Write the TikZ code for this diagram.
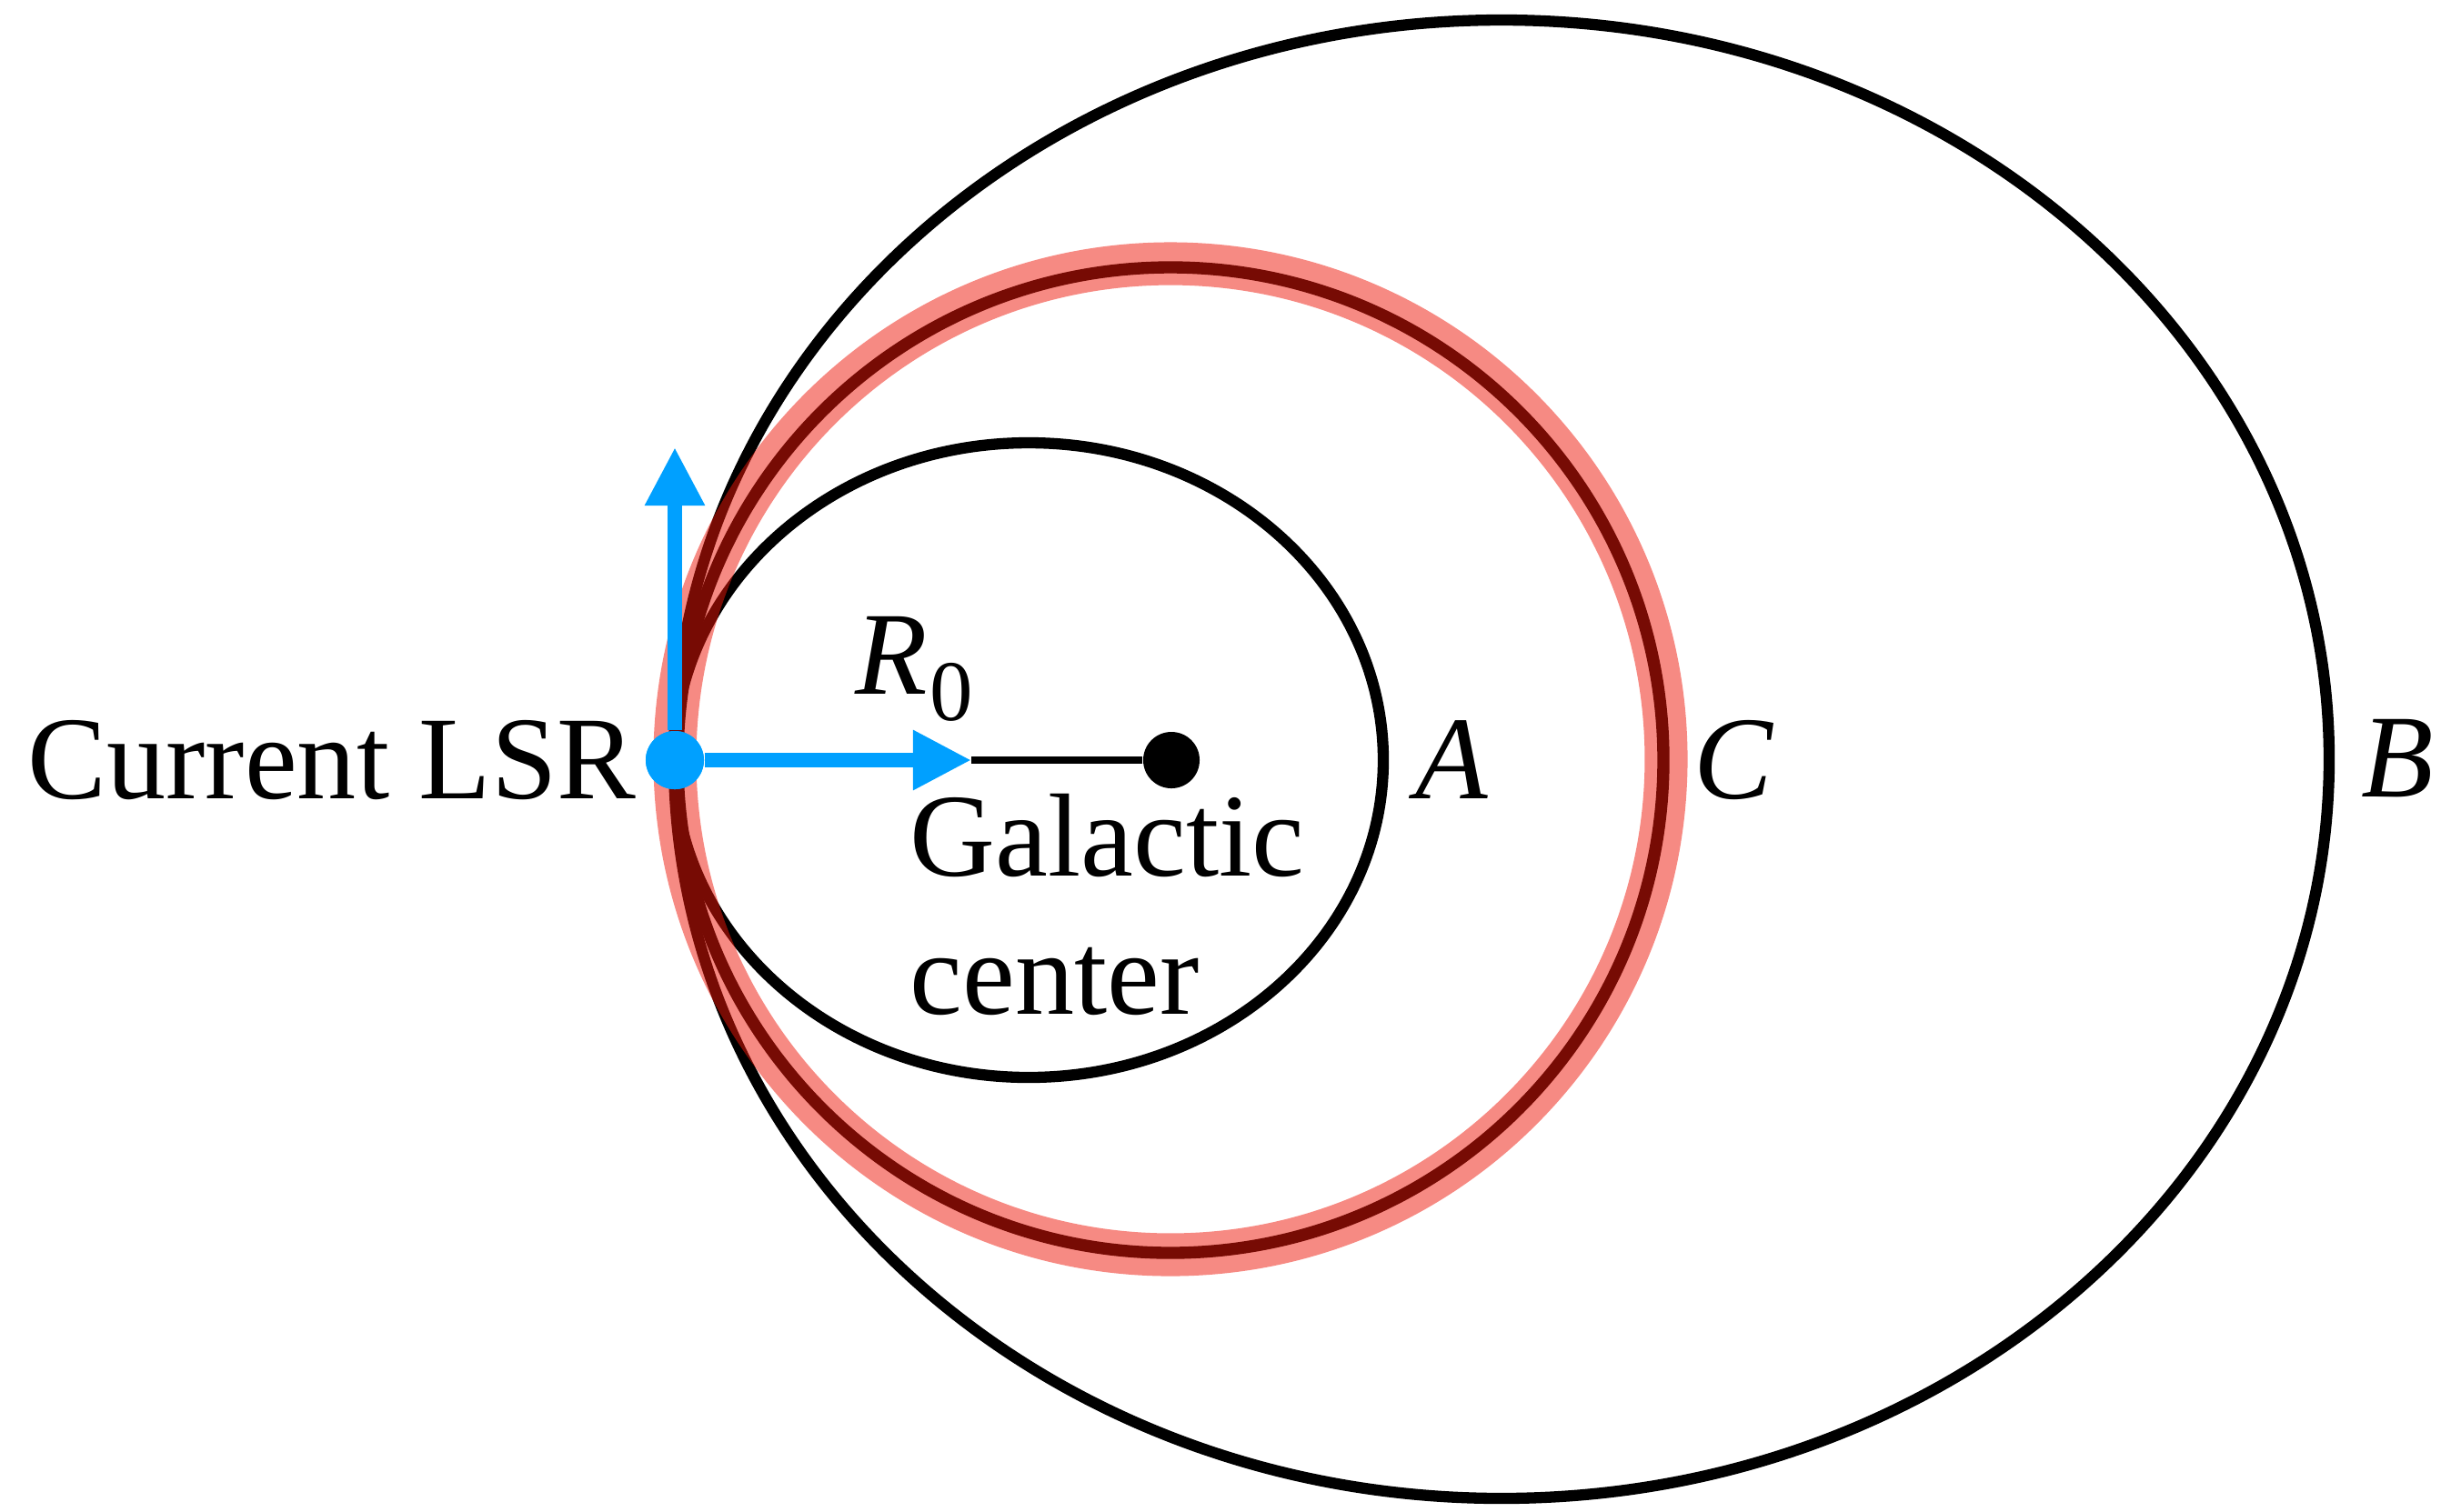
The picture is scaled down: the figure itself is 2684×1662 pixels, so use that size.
\documentclass[tikz,border=0pt]{standalone}
\usepackage{fontspec}
\setmainfont{Liberation Serif}
\usetikzlibrary{arrows.meta}
\definecolor{lsrblue}{RGB}{0,160,255}
\definecolor{hlred}{RGB}{238,22,8}
\begin{document}
\begin{tikzpicture}[x=0.01cm,y=-0.01cm,
  orbit/.style={line width=3.5pt, black},
  band/.style={line width=13.4pt, hlred, draw opacity=0.5},
  bluearrow/.style={line width=4.3pt, lsrblue, -{Triangle[length=0.64cm,width=0.62cm]}},
  radius line/.style={line width=2.4pt, black},
  lbl/.style={inner sep=0pt, anchor=base west, font=\fontsize{37}{44}\selectfont},
  ilbl/.style={lbl, font=\fontsize{37}{44}\selectfont\itshape},
  dotnode/.style={circle, inner sep=0pt, minimum size=#1}]
\useasboundingbox (0,0) rectangle (2684,1662);
% orbits
\draw[orbit] (1651,835) ellipse [x radius=910, y radius=813];
\draw[orbit] (1131,836) ellipse [x radius=390, y radius=349];
\draw[orbit, line width=3.8pt] (1287,836) circle [radius=542];
\draw[band] (1287,835) circle [radius=545];
% nodes
\node[dotnode=0.62cm, fill=black] (gc) at (1288,836) {};
\node[dotnode=0.64cm, fill=lsrblue] (lsr) at (742,836) {};
\coordinate (uptip) at (742,492);
\coordinate (r0tip) at (1068,836);
% connectors
\draw[radius line] (r0tip) -- (gc);
\draw[bluearrow] (lsr) -- (uptip);
\draw[bluearrow] (lsr) -- (r0tip);
\node[dotnode=0.64cm, fill=lsrblue] at (lsr) {};
% labels
\node[lbl] (lsrlabel) at (30,878) {Current LSR};
\node[lbl] (gclabel1) at (1000,963) {Galactic};
\node[lbl] (gclabel2) at (1000,1115) {center};
\node[ilbl] (rlabel) at (940,763) {R};
\node[lbl, font=\fontsize{27}{30}\selectfont] (rsub) at (1022,792) {0};
\node[ilbl] (alabel) at (1556,878) {A};
\node[ilbl] (clabel) at (1862,878) {C};
\node[ilbl] (blabel) at (2596,876) {B};
\end{tikzpicture}
\end{document}
